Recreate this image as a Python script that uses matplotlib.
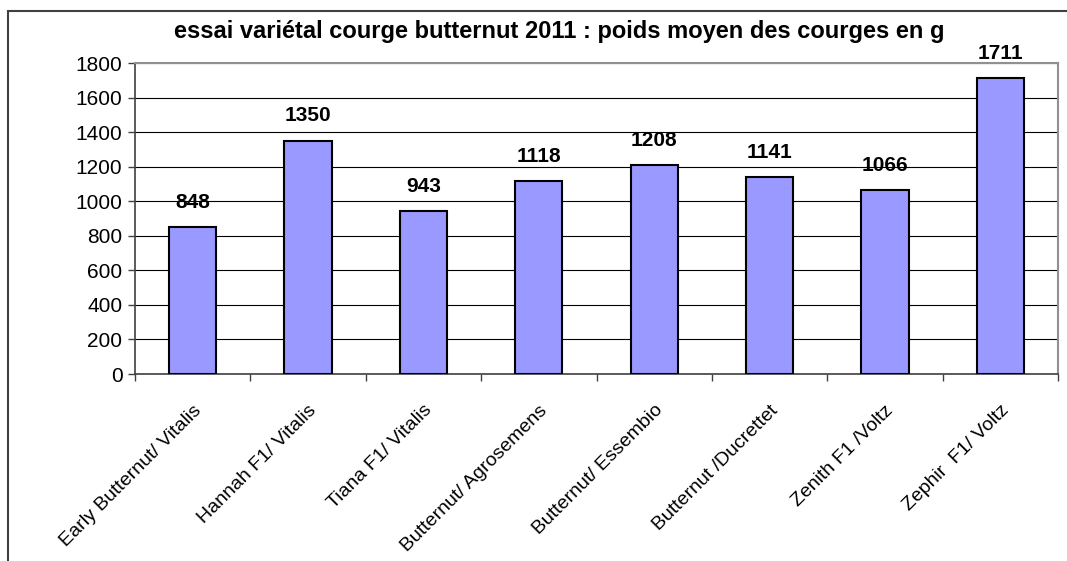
import numpy as np
import matplotlib.pyplot as plt
from matplotlib.patches import Rectangle

plt.rcParams['font.family'] = ['Liberation Sans', 'DejaVu Sans']

varietes = ['Early Butternut/ Vitalis', 'Hannah F1/ Vitalis', 'Tiana F1/ Vitalis',
            'Butternut/ Agrosemens', 'Butternut/ Essembio', 'Butternut /Ducrettet',
            'Zenith F1 /Voltz', 'Zephir  F1/ Voltz']
poids = [848, 1350, 943, 1118, 1208, 1141, 1066, 1711]
yticks = [0, 200, 400, 600, 800, 1000, 1200, 1400, 1600, 1800]

fig = plt.figure(figsize=(10.67, 5.61), dpi=100)
ax = fig.add_axes([0.1265, 0.3333, 0.8651, 0.5544])

x = np.arange(len(poids))
ax.bar(x, poids, width=0.41, color='#9999ff', edgecolor='black', linewidth=1.5, zorder=3)

for xi, v in zip(x, poids):
    ax.annotate(str(v), (xi, v), xytext=(0, 11), textcoords='offset points',
                ha='center', va='bottom', fontsize=15, fontweight='bold', zorder=4)

ax.set_xlim(-0.5, len(poids) - 0.5)
ax.set_ylim(0, 1800)
ax.set_yticks(yticks)
ax.tick_params(axis='y', labelsize=15, length=5, width=1, color='#404040', pad=4)
ax.yaxis.grid(True, color='black', linewidth=0.8, zorder=0)

# ticks entre les categories
ax.set_xticks(np.arange(-0.5, len(poids)), minor=True)
ax.tick_params(axis='x', which='minor', length=5, width=1, color='#404040')
ax.set_xticks(x)
ax.set_xticklabels(varietes, rotation=45, ha='right', rotation_mode='anchor', fontsize=14)
ax.tick_params(axis='x', which='major', length=0, pad=20)

for s in ['left', 'bottom']:
    ax.spines[s].set_color('#404040')
    ax.spines[s].set_linewidth(1.2)
for s in ['top', 'right']:
    ax.spines[s].set_color('#909090')
    ax.spines[s].set_linewidth(1.5)

fig.text(0.524, (561 - 38) / 561, 'essai variétal courge butternut 2011 : poids moyen des courges en g',
         ha='center', va='baseline', fontsize=17, fontweight='bold')

fig.patches.append(Rectangle((8 / 1067, -0.1), 1.2, (561 - 11) / 561 + 0.1,
                             transform=fig.transFigure, fill=False,
                             edgecolor='#404040', linewidth=1.5))

fig.savefig('out.png', dpi=100)
